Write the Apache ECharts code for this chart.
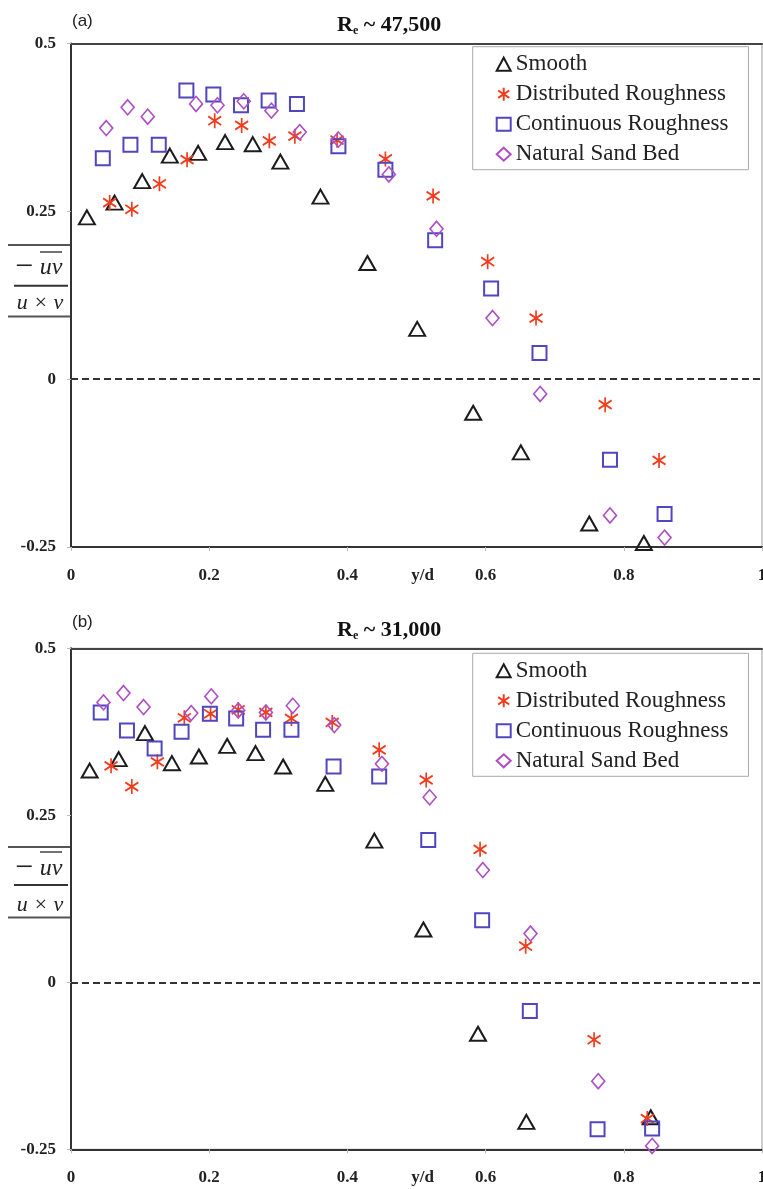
<!DOCTYPE html>
<html><head><meta charset="utf-8">
<script src="https://cdn.jsdelivr.net/npm/echarts@6/dist/echarts.min.js"></script>
<style>html,body{margin:0;padding:0;background:#fff}#c{width:763px;height:1189px}</style>
</head><body><div id="c"></div>
<script>
// ---------- DATA ----------
const seriesNames = ['Smooth', 'Distributed Roughness', 'Continuous Roughness', 'Natural Sand Bed'];
const panelLabels = ['(a)', '(b)'];
const panelReynolds = ['47,500', '31,000'];
const xTickValues = [0, 0.2, 0.4, 0.6, 0.8, 1];
const yTickValues = [-0.25, 0, 0.25, 0.5];
const xAxisName = 'y/d';

// Panel (a): Re ~ 47,500  — [y/d, -uv/(u x v)]
const aSmooth = [[0.023,0.241],[0.063,0.263],[0.103,0.295],[0.143,0.333],[0.184,0.337],[0.223,0.353],[0.263,0.350],[0.303,0.324],[0.361,0.272],[0.429,0.173],[0.501,0.075],[0.582,-0.050],[0.651,-0.109],[0.750,-0.215],[0.829,-0.244]];
const aDistributed = [[0.056,0.263],[0.088,0.253],[0.128,0.291],[0.168,0.327],[0.208,0.385],[0.247,0.378],[0.287,0.355],[0.324,0.362],[0.385,0.356],[0.455,0.328],[0.524,0.273],[0.603,0.175],[0.673,0.091],[0.773,-0.038],[0.851,-0.121]];
const aContinuous = [[0.046,0.329],[0.086,0.349],[0.127,0.349],[0.167,0.430],[0.206,0.424],[0.246,0.408],[0.286,0.415],[0.327,0.410],[0.387,0.347],[0.455,0.312],[0.527,0.207],[0.608,0.135],[0.678,0.039],[0.780,-0.120],[0.859,-0.201]];
const aNatural = [[0.051,0.374],[0.082,0.405],[0.111,0.391],[0.181,0.410],[0.212,0.408],[0.250,0.414],[0.290,0.400],[0.331,0.368],[0.387,0.357],[0.460,0.305],[0.529,0.224],[0.610,0.091],[0.679,-0.022],[0.780,-0.203],[0.859,-0.236]];

// Panel (b): Re ~ 31,000
const bSmooth = [[0.027,0.317],[0.069,0.334],[0.107,0.373],[0.146,0.328],[0.185,0.338],[0.226,0.354],[0.267,0.343],[0.307,0.323],[0.368,0.297],[0.439,0.212],[0.510,0.079],[0.589,-0.077],[0.659,-0.209],[0.839,-0.202]];
const bDistributed = [[0.058,0.324],[0.088,0.293],[0.125,0.330],[0.164,0.396],[0.202,0.402],[0.242,0.408],[0.282,0.404],[0.319,0.395],[0.378,0.389],[0.446,0.348],[0.514,0.303],[0.592,0.199],[0.658,0.054],[0.757,-0.086],[0.834,-0.204]];
const bContinuous = [[0.043,0.404],[0.081,0.377],[0.121,0.350],[0.160,0.375],[0.201,0.402],[0.239,0.395],[0.278,0.378],[0.319,0.378],[0.380,0.323],[0.446,0.308],[0.517,0.213],[0.595,0.093],[0.664,-0.043],[0.762,-0.220],[0.841,-0.219]];
const bNatural = [[0.047,0.419],[0.076,0.433],[0.105,0.412],[0.174,0.403],[0.203,0.428],[0.242,0.407],[0.282,0.404],[0.321,0.414],[0.381,0.385],[0.450,0.327],[0.519,0.277],[0.596,0.168],[0.665,0.073],[0.763,-0.148],[0.841,-0.245]];

const panelData = [
  [aSmooth, aDistributed, aContinuous, aNatural],
  [bSmooth, bDistributed, bContinuous, bNatural]
];

// ---------- STYLE / LAYOUT ----------
const SERIF = 'Liberation Serif';
const SANS = 'Liberation Sans';
const starPath = 'path://M6 0L6 14M0 3L12 11M0 11L12 3';
const markerStyles = [
  { symbol: 'triangle', size: [16, 14], color: '#1c1c1c', bw: 2 },
  { symbol: starPath, size: [13, 15], color: '#f23c1e', bw: 1.8 },
  { symbol: 'rect', size: [14, 14], color: '#5145c0', bw: 2 },
  { symbol: 'diamond', size: [13, 15], color: '#ad4fc4', bw: 1.6 }
];
const grids = [
  { left: 71, top: 43.5, width: 691, height: 503.5 },
  { left: 71, top: 648.3, width: 691, height: 501 }
];
const legendTops = [46.7, 653.3];
const titleY = [25, 630];
const labelY = [21, 622];
const yLab = [
  { top: 245, over: 252, num: 268, bar: 285.7, den: 303.5, bot: 316.5 },
  { top: 847, over: 852, num: 869, bar: 885, den: 905.5, bot: 917.5 }
];

const tickFont = { fontSize: 17, fontWeight: 'bold', fontFamily: SERIF, color: '#222' };
const fmt = v => String(parseFloat(Number(v).toFixed(2)));

const xAxes = [], yAxes = [], series = [], legends = [], graphics = [];
grids.forEach((g, i) => {
  xAxes.push({
    gridIndex: i, type: 'value', min: 0, max: 1, interval: 0.2, position: 'bottom',
    axisLine: { show: true, onZero: false, lineStyle: { color: '#333', width: 2 } },
    axisTick: { show: true, length: 4, lineStyle: { color: '#bbb' } },
    axisLabel: Object.assign({ margin: 20, formatter: fmt, showMaxLabel: true, hideOverlap: false }, tickFont),
    splitLine: { show: false },
    name: xAxisName, nameLocation: 'middle', nameGap: 20, nameMoveOverlap: false,
    nameTextStyle: Object.assign({ padding: [0, 0, 0, 12], verticalAlign: 'top' }, tickFont)
  });
  xAxes.push({
    gridIndex: i, type: 'value', min: 0, max: 1, position: 'top',
    axisLine: { show: true, onZero: false, lineStyle: { color: '#444', width: 2 } },
    axisTick: { show: false }, axisLabel: { show: false }, splitLine: { show: false }
  });
  yAxes.push({
    gridIndex: i, type: 'value', min: -0.25, max: 0.5, interval: 0.25,
    axisLine: { show: true, onZero: false, lineStyle: { color: '#333', width: 2 } },
    axisTick: { show: true, length: 4, lineStyle: { color: '#bbb' } },
    axisLabel: Object.assign({ margin: 15, formatter: fmt }, tickFont),
    splitLine: { show: false }
  });
  panelData[i].forEach((pts, k) => {
    const st = markerStyles[k];
    const s = {
      name: seriesNames[k], type: 'scatter', xAxisIndex: i * 2, yAxisIndex: i,
      data: pts, symbol: st.symbol, symbolSize: st.size, z: 5,
      itemStyle: { color: 'rgba(0,0,0,0)', borderColor: st.color, borderWidth: st.bw, opacity: 1 },
      emphasis: { disabled: true }
    };
    if (k === 0) {
      s.markLine = {
        silent: true, symbol: 'none', label: { show: false },
        lineStyle: { type: [7, 4], color: '#333', width: 2 },
        data: [{ yAxis: 0 }], z: 3
      };
    }
    series.push(s);
  });
  legends.push({
    orient: 'vertical', left: 472.7, top: legendTops[i],
    padding: [6, 20, 4, 23], itemGap: 7, itemWidth: 14, itemHeight: 13,
    backgroundColor: '#fff', borderColor: '#aaa', borderWidth: 1, borderRadius: 0,
    selectedMode: false,
    textStyle: { fontSize: 23, fontFamily: SERIF, color: '#222', lineHeight: 23 },
    data: seriesNames.map((n, k) => ({ name: n, icon: markerStyles[k].symbol }))
  });
  // panel label
  graphics.push({ type: 'text', x: 72, y: labelY[i], style: { text: panelLabels[i], fontSize: 17, fontFamily: SANS, fill: '#222', verticalAlign: 'middle', align: 'left' } });
  // title
  graphics.push({ type: 'text', x: 337, y: titleY[i], style: {
    text: '{r|R}{s|e}{r| ~ ' + panelReynolds[i] + '}', verticalAlign: 'middle', align: 'left',
    rich: {
      r: { fontSize: 22, fontWeight: 'bold', fontFamily: SERIF, fill: '#111' },
      s: { fontSize: 12, fontWeight: 'bold', fontFamily: SERIF, fill: '#111', padding: [12, 0, 0, 0] }
    } } });
  // y axis label fraction
  const L = yLab[i];
  const ln = (x1, y, x2, w, c) => ({ type: 'line', shape: { x1: x1, y1: y, x2: x2, y2: y }, style: { stroke: c, lineWidth: w } });
  graphics.push(ln(8, L.top, 71, 2, '#555'));
  graphics.push(ln(8, L.bot, 71, 2, '#555'));
  graphics.push(ln(14, L.bar, 68, 2, '#333'));
  graphics.push(ln(40, L.over, 62, 1.5, '#444'));
  graphics.push({ type: 'text', x: 24, y: L.num, style: { text: '\u2212', fontSize: 32, fontFamily: SERIF, fill: '#222', align: 'center', verticalAlign: 'middle' } });
  graphics.push({ type: 'text', x: 51, y: L.num, style: { text: 'uv', fontSize: 24, fontStyle: 'italic', fontFamily: SERIF, fill: '#222', align: 'center', verticalAlign: 'middle' } });
  graphics.push({ type: 'text', x: 40, y: L.den, style: { text: 'u \u00d7 v', fontSize: 22, fontStyle: 'italic', fontFamily: SERIF, fill: '#222', align: 'center', verticalAlign: 'middle' } });
});

const chart = echarts.init(document.getElementById('c'), null, { renderer: 'canvas' });
chart.setOption({
  animation: false,
  backgroundColor: '#fff',
  grid: grids.map(g => Object.assign({ show: true, borderColor: '#999', borderWidth: 1, backgroundColor: 'rgba(0,0,0,0)', containLabel: false, outerBoundsMode: 'none' }, g)),
  xAxis: xAxes,
  yAxis: yAxes,
  legend: legends,
  series: series,
  graphic: graphics
});
</script>
</body></html>
